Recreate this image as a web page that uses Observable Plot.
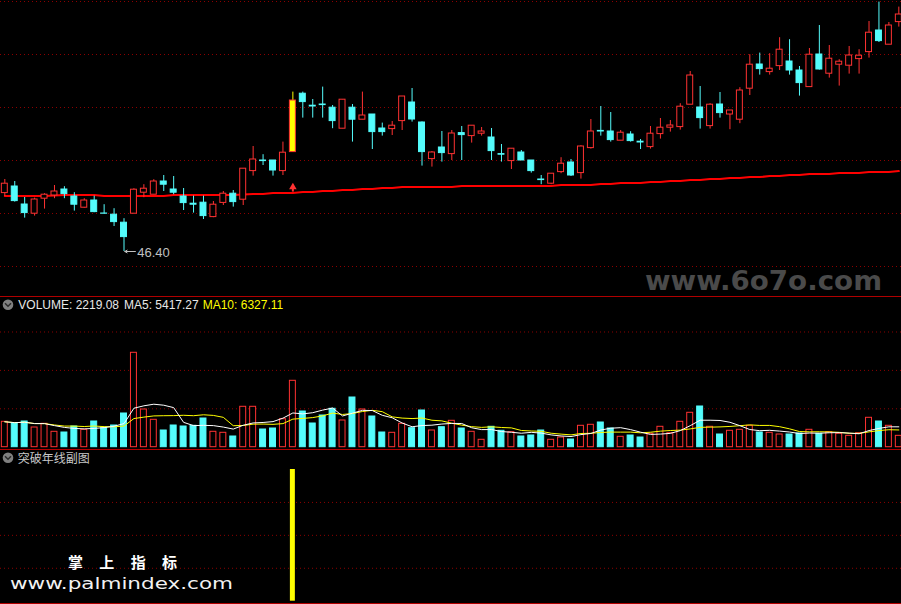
<!DOCTYPE html>
<html><head><meta charset="utf-8">
<script src="https://cdn.jsdelivr.net/npm/d3@7"></script>
<script src="https://cdn.jsdelivr.net/npm/@observablehq/plot@0.6"></script>
<style>
html,body{margin:0;padding:0;background:#000;}
#wrap{position:relative;width:901px;height:604px;overflow:hidden;background:#000;}
.panel{position:absolute;left:0;}
.panel svg{display:block;}
</style></head>
<body><div id="wrap">
<div class="panel" id="p1" style="top:0"></div>
<div class="panel" id="p2" style="top:296px"></div>
<div class="panel" id="p3" style="top:449px"></div>
</div>
<script>
// ---------- data ----------
const opens = [49.32,49.65,48.75,48.29,49.04,49.20,49.50,49.15,48.59,48.95,
48.30,48.24,47.84,48.29,49.34,49.24,49.90,49.50,49.15,48.79,
48.84,48.12,48.83,49.29,48.99,50.42,50.95,50.95,50.42,51.37,
54.29,53.69,53.75,53.59,52.54,53.59,52.99,53.25,52.55,52.52,
52.92,53.85,52.85,51.02,51.60,51.27,52.32,52.17,52.29,52.10,
51.27,50.92,51.35,50.95,50.00,49.79,50.37,50.85,50.32,51.57,
52.43,52.40,51.94,52.25,51.89,51.62,52.27,52.59,52.62,53.74,
53.60,52.67,53.75,53.25,52.99,54.54,55.75,55.37,55.67,55.90,
55.45,54.62,56.25,55.29,55.74,55.69,56.02,56.37,57.45,56.74,
57.87];
const highs = [50.00,49.90,49.10,49.07,49.29,49.70,49.64,49.34,49.04,49.17,
48.74,48.54,48.04,49.54,49.74,49.99,50.20,50.15,49.55,49.17,
49.17,48.90,49.40,49.45,50.55,51.65,51.24,50.95,51.87,54.37,
54.37,54.00,54.62,53.70,53.99,53.75,54.37,53.25,52.82,52.90,
54.15,54.55,52.88,51.40,52.40,52.45,52.65,52.69,52.60,52.55,
51.75,51.54,51.45,50.95,50.20,50.29,51.09,51.00,51.69,53.00,
53.65,53.35,52.45,52.39,52.00,52.65,53.05,52.95,53.79,55.40,
54.65,53.79,54.35,53.45,54.59,56.24,56.32,56.29,57.09,56.99,
55.65,56.55,57.70,56.70,55.99,56.65,56.49,57.90,58.87,57.85,
58.62];
const lows = [49.15,48.87,48.07,48.17,48.52,49.04,49.04,48.42,48.57,48.34,
48.28,47.65,46.40,48.29,49.09,49.24,49.40,49.24,48.45,48.32,
48.00,48.09,48.70,48.62,48.70,50.17,50.70,50.17,50.20,51.37,
53.07,53.07,53.07,52.54,52.54,51.87,52.99,51.50,52.17,52.20,
52.45,52.87,50.67,50.62,50.87,50.95,50.95,51.82,52.17,50.95,
50.87,50.50,50.95,50.32,49.74,49.74,50.29,50.15,50.02,51.52,
52.17,51.87,51.94,51.87,51.50,51.52,52.02,52.37,52.47,53.74,
52.52,52.52,53.07,52.49,52.79,54.20,55.22,55.22,55.45,55.22,
54.17,54.62,55.47,55.07,54.67,55.27,55.27,56.07,56.85,56.74,
57.62];
const closes = [49.79,48.92,48.32,49.00,49.24,49.40,49.27,48.74,48.95,48.37,
48.29,47.87,47.12,49.49,49.54,49.90,49.74,49.34,48.82,48.74,
48.17,48.74,49.29,48.87,50.54,51.00,50.92,50.45,51.34,53.95,
53.87,53.65,53.72,52.92,53.99,52.99,53.20,52.37,52.37,52.69,
54.15,53.00,51.37,51.35,51.32,52.30,52.22,52.69,52.40,51.42,
51.24,51.54,50.95,50.42,49.97,50.29,50.79,50.20,51.65,52.40,
52.40,51.97,52.34,51.92,51.85,52.29,52.59,52.70,53.64,55.20,
53.07,53.74,53.32,53.45,54.45,55.74,55.52,55.54,56.49,55.45,
54.82,56.24,55.50,56.04,55.89,56.20,56.19,57.34,56.92,57.70,
58.25];
// 年线 (yearly moving average) read per bar
const yearLine = [49.17,49.17,49.17,49.17,49.17,49.20,49.23,49.23,49.23,49.23,
49.17,49.17,49.17,49.17,49.17,49.17,49.17,49.23,49.23,49.23,
49.23,49.23,49.23,49.23,49.25,49.28,49.28,49.32,49.32,49.32,
49.37,49.37,49.42,49.42,49.47,49.47,49.52,49.52,49.57,49.57,
49.62,49.62,49.62,49.62,49.62,49.62,49.67,49.67,49.67,49.67,
49.67,49.67,49.67,49.67,49.67,49.67,49.73,49.73,49.73,49.73,
49.77,49.77,49.82,49.82,49.82,49.87,49.87,49.92,49.92,49.97,
49.97,50.02,50.02,50.07,50.07,50.12,50.12,50.17,50.17,50.22,
50.22,50.27,50.27,50.27,50.32,50.32,50.32,50.37,50.37,50.37,
50.42];
const volumes = [4961,4629,5019,3847,4570,3008,2871,4043,3398,5019,
3789,4238,6582,18436,7363,5351,3262,4238,4043,4179,
5605,3008,2812,2090,7890,7890,3457,3652,5468,12968,
6972,4629,6191,7500,5215,9706,7363,5996,2871,2812,
4570,3711,7168,3262,3906,5156,3652,3008,1445,3984,
3203,2930,2090,2285,3262,1445,1894,1504,4179,4375,
4824,3652,2031,2285,1894,2617,3984,2734,4961,6718,
7949,3984,2480,3203,3398,4179,2871,2812,2480,2480,
2676,3398,2617,2930,2617,2226,2734,5742,5019,4179,
2219.08];
const signalIndex = [29];          // 突破年线 signal bar
const signalValue = [1];
const arrowHead = [49.62], arrowBase = [49.37], arrowNeck = [49.55];
const priceGrid = [58.90, 56.25, 53.60, 50.95, 48.30, 45.65];
const volGrid = [7500, 15000, 22500];
const indGrid = [0.25, 0.5, 0.75];
const legendMA5 = "5417.27", legendMA10 = "6327.11";
const indicatorTitle = "突破年线副图";

// ---------- build ----------
const RED = "#ff3232", CYAN = "#54fcfc", YEL = "#ffff00", GRID = "#8c0000", BORDER = "#b00000";
const xDomain = [-0.433, 90.27];
const candles = opens.map((o, i) => ({i, o, h: highs[i], l: lows[i], c: closes[i], v: volumes[i], up: closes[i] > o}));
const sigSet = new Set(signalIndex);
const lowIdx = d3.minIndex(lows);

const p1 = Plot.plot({
  width: 901, height: 296, margin: 0,
  style: {background: "#000", overflow: "visible"},
  x: {domain: xDomain, axis: null},
  y: {domain: [44.15, 58.95], axis: null},
  color: {type: "identity"},
  marks: [
    Plot.ruleY(priceGrid, {stroke: GRID, strokeDasharray: "1,3"}),
    Plot.line(candles, {x: "i", y: d => yearLine[d.i], stroke: "#ff0000", strokeWidth: 2}),
    Plot.ruleX(candles, {x: "i", y1: "l", y2: "h", stroke: d => sigSet.has(d.i) ? YEL : d.up ? RED : CYAN}),
    Plot.rect(candles, {x1: d => d.i - 0.3, x2: d => d.i + 0.3, y1: "o", y2: "c",
      fill: d => sigSet.has(d.i) ? YEL : d.up ? "#000" : CYAN,
      stroke: d => sigSet.has(d.i) ? RED : d.up ? RED : CYAN}),
    Plot.ruleX(signalIndex, {x: i => i, y1: (i, j) => arrowBase[j], y2: (i, j) => arrowNeck[j], stroke: RED, strokeWidth: 2}),
    Plot.dot(signalIndex, {x: i => i, y: (i, j) => arrowHead[j], symbol: "triangle", r: 2.8, fill: RED, stroke: "none"}),
    Plot.arrow([lowIdx], {x1: i => i + 1.15, y1: i => lows[i], x2: i => i + 0.08, y2: i => lows[i], stroke: "#c0c0c0", strokeWidth: 1, headLength: 4, bend: 0}),
    Plot.text([lowIdx], {x: i => i + 1.33, y: i => lows[i], text: i => lows[i].toFixed(2), textAnchor: "start", dy: 1.5,
      fill: "#c0c0c0", fontSize: 13, fontFamily: "Liberation Sans, Arial, sans-serif"})
  ]
});
document.getElementById("p1").appendChild(p1);

const p2 = Plot.plot({
  width: 901, height: 153, marginTop: 0, marginLeft: 0, marginRight: 0, marginBottom: 2.3,
  style: {background: "#000", overflow: "visible"},
  x: {domain: xDomain, axis: null},
  y: {domain: [0, 29430], axis: null},
  color: {type: "identity"},
  marks: [
    Plot.ruleY(volGrid, {stroke: GRID, strokeDasharray: "1,3"}),
    Plot.rect(candles, {x1: d => d.i - 0.3, x2: d => d.i + 0.3, y1: 0, y2: "v",
      fill: d => d.up ? "#000" : CYAN, stroke: d => d.up ? RED : CYAN}),
    Plot.lineY(candles, Plot.windowY({k: 10, anchor: "end"}, {x: "i", y: "v", stroke: YEL, strokeWidth: 1})),
    Plot.lineY(candles, Plot.windowY({k: 5, anchor: "end"}, {x: "i", y: "v", stroke: "#ffffff", strokeWidth: 1}))
  ]
});
document.getElementById("p2").appendChild(p2);

const p3 = Plot.plot({
  width: 901, height: 155, marginTop: 20, marginLeft: 0, marginRight: 0, marginBottom: 3.3,
  style: {background: "#000", overflow: "visible"},
  x: {domain: xDomain, axis: null},
  y: {domain: [0, 1], axis: null},
  marks: [
    Plot.ruleY(indGrid, {stroke: GRID, strokeDasharray: "1,3"}),
    Plot.rect(signalIndex, {x1: i => i - 0.25, x2: i => i + 0.25, y1: 0, y2: (i, j) => signalValue[j], fill: YEL})
  ]
});
document.getElementById("p3").appendChild(p3);

// ---------- overlay: borders, titles, watermarks ----------
const ov = d3.select("#wrap").append("svg")
  .attr("width", 901).attr("height", 604)
  .style("position", "absolute").style("left", 0).style("top", 0).style("pointer-events", "none");
[296.5, 449.5, 603.5].forEach(y => ov.append("line").attr("x1", 0).attr("x2", 901).attr("y1", y).attr("y2", y).attr("stroke", BORDER).attr("stroke-width", 1));
function icon(cy) {
  ov.append("circle").attr("cx", 8).attr("cy", cy).attr("r", 5.3).attr("fill", "#808080");
  ov.append("path").attr("d", `M5,${cy - 1.5} L8,${cy + 1.5} L11,${cy - 1.5}`).attr("fill", "none").attr("stroke", "#2a2a2a").attr("stroke-width", 1.5);
}
icon(304.7); icon(457.7);
const sans = "Liberation Sans, Arial, sans-serif";
ov.append("text").attr("x", 18.3).attr("y", 309).attr("fill", "#e8e8e8").style("font", `12px ${sans}`)
  .text(`VOLUME: ${volumes[volumes.length - 1].toFixed(2)}`);
ov.append("text").attr("x", 124).attr("y", 309).attr("fill", "#e8e8e8").style("font", `12px ${sans}`)
  .text(`MA5: ${legendMA5}`);
ov.append("text").attr("x", 202.7).attr("y", 309).attr("fill", YEL).style("font", `12px ${sans}`)
  .text(`MA10: ${legendMA10}`);
ov.append("text").attr("x", 17.7).attr("y", 462.5).attr("fill", "#c8c8c8").style("font", `12px "Noto Sans CJK SC", sans-serif`)
  .text(indicatorTitle);
ov.append("text").attr("x", 645).attr("y", 290).attr("fill", "#4a4a4a")
  .attr("textLength", 237).attr("lengthAdjust", "spacingAndGlyphs")
  .style("font", `bold 26px "DejaVu Sans", sans-serif`).text("www.6o7o.com");
ov.append("text").attr("x", 68).attr("y", 568).attr("fill", "#ffffff")
  .attr("textLength", 109).attr("lengthAdjust", "spacing")
  .style("font", `bold 15px "Noto Sans CJK SC", sans-serif`).text("掌上指标");
ov.append("text").attr("x", 10).attr("y", 589).attr("fill", "#f2f2f2")
  .attr("textLength", 223).attr("lengthAdjust", "spacingAndGlyphs")
  .style("font", `16.5px "DejaVu Sans", sans-serif`).text("www.palmindex.com");
</script>
</body></html>
